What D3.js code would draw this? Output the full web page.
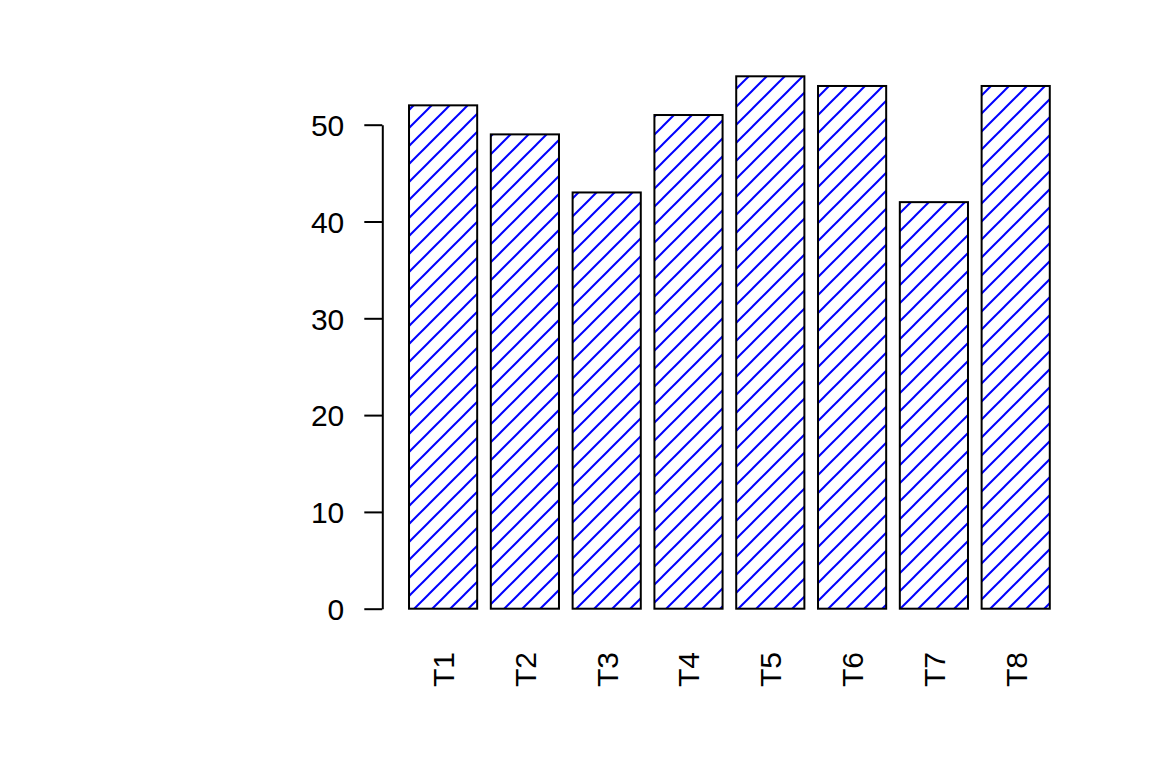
<!DOCTYPE html>
<html>
<head>
<meta charset="utf-8">
<script src="https://cdn.jsdelivr.net/npm/d3@7"></script>
<style>
  body { margin: 0; background: #fff; }
  svg { display: block; }
</style>
</head>
<body>
<script>
// bar chart with hatched bars

const categories = ['T1', 'T2', 'T3', 'T4', 'T5', 'T6', 'T7', 'T8'];
const values = [52, 49, 43, 51, 55, 54, 42, 54];
const yTicks = [0, 10, 20, 30, 40, 50];

const width = 1152, height = 768;
const fontFamily = 'Arial, "Liberation Sans", sans-serif';

const x = d3.scaleBand()
    .domain(categories)
    .range([402.2, 1056.6])
    .paddingInner(1 / 6)
    .paddingOuter(1 / 12);

const y = d3.scaleLinear().domain([0, 50]).range([608.7, 124.7]);

const svg = d3.select('body').append('svg')
    .attr('width', width)
    .attr('height', height);

svg.append('rect')
    .attr('width', width)
    .attr('height', height)
    .attr('fill', '#fff');

// hatch pattern: 45 degree lines, same phase across all bars
const s = 18;
const pat = svg.append('defs').append('pattern')
    .attr('id', 'hatch')
    .attr('patternUnits', 'userSpaceOnUse')
    .attr('x', 15)
    .attr('y', 0)
    .attr('width', s)
    .attr('height', s);

pat.selectAll('line')
    .data([[0, s, s, 0], [-2, 2, 2, -2], [s - 2, s + 2, s + 2, s - 2]])
    .join('line')
    .attr('x1', d => d[0]).attr('y1', d => d[1])
    .attr('x2', d => d[2]).attr('y2', d => d[3])
    .attr('stroke', '#0000ff')
    .attr('stroke-width', 2);

svg.append('g')
    .selectAll('rect')
    .data(values)
    .join('rect')
    .attr('x', (d, i) => x(categories[i]))
    .attr('y', d => y(d))
    .attr('width', x.bandwidth())
    .attr('height', d => y(0) - y(d))
    .attr('fill', 'url(#hatch)')
    .attr('stroke', '#000')
    .attr('stroke-width', 2);

// y axis
const yAxis = d3.axisLeft(y)
    .tickValues(yTicks)
    .tickSize(18)
    .tickSizeOuter(0)
    .tickPadding(20);

const gy = svg.append('g')
    .attr('transform', 'translate(382.3,0)')
    .call(yAxis);

gy.selectAll('path, line')
    .attr('stroke', '#000')
    .attr('stroke-width', 2);

gy.selectAll('text')
    .attr('font-family', fontFamily)
    .attr('font-size', 30)
    .attr('fill', '#000')
    .attr('dy', '0.36em');

// x labels, rotated
svg.append('g')
    .selectAll('text')
    .data(categories)
    .join('text')
    .attr('transform', d => `translate(${x(d) + x.bandwidth() / 2},652) rotate(-90)`)
    .attr('text-anchor', 'end')
    .attr('dy', '0.36em')
    .attr('font-family', fontFamily)
    .attr('font-size', 30)
    .attr('fill', '#000')
    .text(d => d);
</script>
</body>
</html>
